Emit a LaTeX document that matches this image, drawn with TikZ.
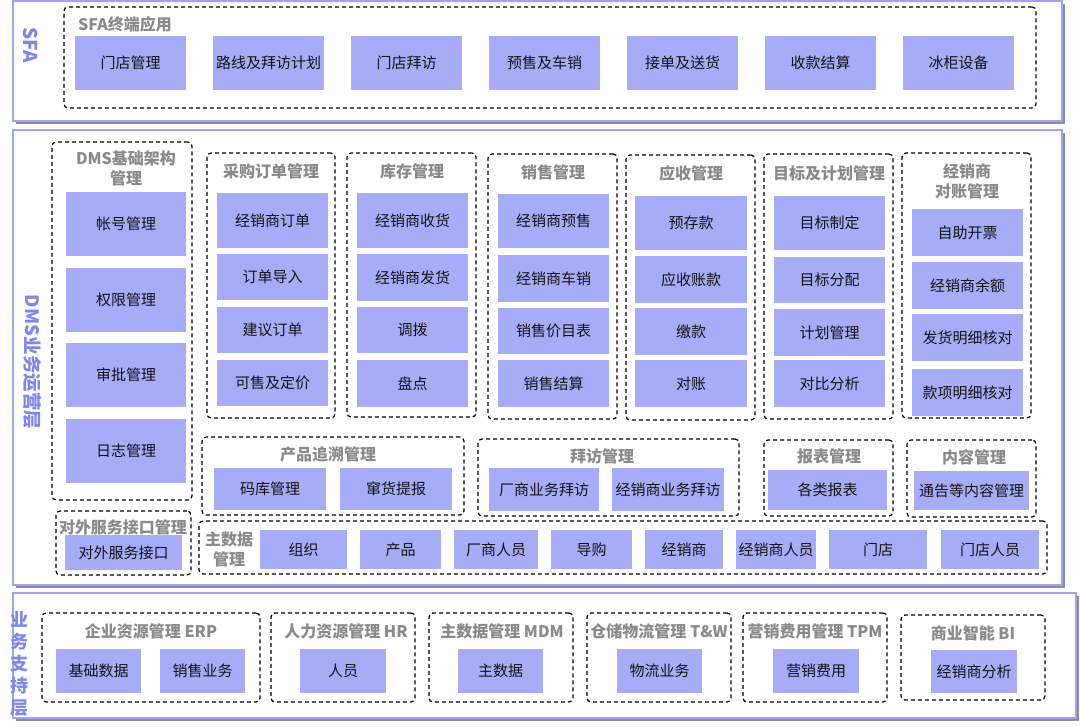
\documentclass[tikz,border=0pt]{standalone}
\usepackage{fontspec}
\setmainfont{Noto Sans CJK SC}
\definecolor{boxc}{RGB}{166,172,247}
\definecolor{panelc}{RGB}{158,165,240}
\definecolor{labelc}{RGB}{127,135,238}
\definecolor{ttlc}{RGB}{138,138,138}
\definecolor{shadowc}{RGB}{140,140,150}
\definecolor{txtc}{RGB}{20,20,20}
\newcommand\rbox[7][item]{\node[#1,anchor=north west,minimum width={(#5)-(#3)},minimum height={(#6)-(#4)}] (#2) at (#3,#4) {#7};}
\begin{document}
\begin{tikzpicture}[x=1pt,y=-1pt,
  item/.style={fill=boxc,inner sep=0pt,outer sep=0pt,text=txtc,font=\fontsize{15}{18}\selectfont,align=center},
  grp/.style={draw=black,line width=1.2pt,dash pattern=on 4pt off 3pt,rounded corners=4pt,inner sep=0pt,outer sep=0pt},
  panel/.style={fill=white,draw=panelc,line width=1.5pt,inner sep=0pt,outer sep=0pt},
  ttl/.style={text=ttlc,font=\fontsize{16}{20}\bfseries\selectfont,inner sep=0pt,align=center},
  side/.style={text=labelc,font=\fontsize{19}{23}\bfseries\selectfont,inner sep=0pt,align=center}]
\useasboundingbox (0,0) rectangle (1080,727);
% ---------- panels with shadow
\fill[shadowc] (16,4) rectangle (1065,124);
\fill[shadowc] (16,133) rectangle (1065,588);
\fill[shadowc] (16,596) rectangle (1079,721);
\rbox[panel]{pSFA}{13}{1}{1062}{121}{}
\rbox[panel]{pDMS}{13}{130}{1062}{585}{}
\rbox[panel]{pSUP}{13}{593}{1076}{718}{}
% ---------- side labels
\node[side,rotate=-90] (lSFA) at (31,45) {SFA};
\node[side,rotate=-90,font=\fontsize{18.5}{22}\bfseries\selectfont] (lDMS) at (32,362) {DMS业务运营层};
\node[side,font=\fontsize{18}{22}\bfseries\selectfont] (lSUP) at (19,664) {业\\务\\支\\持\\层};
% ---------- SFA
\rbox[grp]{gSFA}{64}{7}{1036}{108}{}
\node[ttl,anchor=west] (tSFA) at (78,24) {SFA终端应用};
\rbox{s1}{75}{36}{186}{90}{门店管理}
\rbox{s2}{213}{36}{324}{90}{路线及拜访计划}
\rbox{s3}{351}{36}{462}{90}{门店拜访}
\rbox{s4}{489}{36}{600}{90}{预售及车销}
\rbox{s5}{627}{36}{738}{90}{接单及送货}
\rbox{s6}{765}{36}{876}{90}{收款结算}
\rbox{s7}{903}{36}{1014}{90}{冰柜设备}
% ---------- DMS basic
\rbox[grp]{gBase}{52}{142}{192}{500}{}
\node[ttl] (tBase) at (126,168) {DMS基础架构\\管理};
\rbox{b1}{66}{192}{186}{256}{帐号管理}
\rbox{b2}{66}{268}{186}{332}{权限管理}
\rbox{b3}{66}{343}{186}{407}{审批管理}
\rbox{b4}{66}{419}{186}{483}{日志管理}
% purchase
\rbox[grp]{gPur}{207}{153}{335}{418}{}
\node[ttl] (tPur) at (271,171) {采购订单管理};
\rbox{p1}{217}{193}{328}{248}{经销商订单}
\rbox{p2}{217}{254}{328}{300}{订单导入}
\rbox{p3}{217}{307}{328}{353}{建议订单}
\rbox{p4}{217}{360}{328}{406}{可售及定价}
% inventory
\rbox[grp]{gInv}{347}{153}{476}{417}{}
\node[ttl] (tInv) at (412,171) {库存管理};
\rbox{i1}{357}{193}{468}{248}{经销商收货}
\rbox{i2}{357}{254}{468}{301}{经销商发货}
\rbox{i3}{357}{307}{468}{353}{调拨}
\rbox{i4}{357}{360}{468}{407}{盘点}
% sales
\rbox[grp]{gSal}{488}{154}{617}{419}{}
\node[ttl] (tSal) at (553,172) {销售管理};
\rbox{x1}{498}{194}{609}{248}{经销商预售}
\rbox{x2}{498}{255}{609}{302}{经销商车销}
\rbox{x3}{498}{308}{609}{354}{销售价目表}
\rbox{x4}{498}{360}{609}{407}{销售结算}
% receivables
\rbox[grp]{gRec}{626}{155}{755}{420}{}
\node[ttl] (tRec) at (691,173) {应收管理};
\rbox{r1}{635}{196}{747}{250}{预存款}
\rbox{r2}{635}{256}{747}{303}{应收账款}
\rbox{r3}{635}{308}{747}{355}{缴款}
\rbox{r4}{635}{360}{747}{407}{对账}
% targets
\rbox[grp]{gTar}{764}{154}{893}{419}{}
\node[ttl] (tTar) at (829,173) {目标及计划管理};
\rbox{t1}{774}{196}{885}{250}{目标制定}
\rbox{t2}{774}{257}{885}{303}{目标分配}
\rbox{t3}{774}{309}{885}{356}{计划管理}
\rbox{t4}{774}{360}{885}{407}{对比分析}
% dealer reconciliation
\rbox[grp]{gDea}{902}{153}{1031}{418}{}
\node[ttl] (tDea) at (967,181) {经销商\\对账管理};
\rbox{d1}{912}{209}{1023}{256}{自助开票}
\rbox{d2}{912}{262}{1023}{309}{经销商余额}
\rbox{d3}{912}{314}{1023}{361}{发货明细核对}
\rbox{d4}{912}{369}{1023}{416}{款项明细核对}
% ---------- second row
\rbox[grp]{gTra}{202}{437}{464}{515}{}
\node[ttl] (tTra) at (328,454) {产品追溯管理};
\rbox{tr1}{214}{468}{326}{510}{码库管理}
\rbox{tr2}{340}{468}{452}{510}{窜货提报}
\rbox[grp]{gVis}{478}{439}{739}{516}{}
\node[ttl] (tVis) at (602,456) {拜访管理};
\rbox{v1}{489}{468}{599}{511}{厂商业务拜访}
\rbox{v2}{612}{468}{724}{511}{经销商业务拜访}
\rbox[grp]{gRep}{764}{440}{893}{516}{}
\node[ttl] (tRep) at (829,456) {报表管理};
\rbox{rp1}{768}{470}{887}{510}{各类报表}
\rbox[grp]{gCon}{907}{440}{1036}{517}{}
\node[ttl] (tCon) at (974,457) {内容管理};
\rbox{c1}{914}{471}{1029}{510}{通告等内容管理}
% external interface
\rbox[grp]{gExt}{56}{511}{191}{575}{}
\node[ttl] (tExt) at (123,527) {对外服务接口管理};
\rbox{e1}{65}{535}{182}{570}{对外服务接口}
% master data
\rbox[grp]{gMD}{199}{521}{1047}{574}{}
\node[ttl] (tMD) at (229,549) {主数据\\管理};
\rbox{m1}{260}{530}{347}{569}{组织}
\rbox{m2}{360}{530}{441}{569}{产品}
\rbox{m3}{454}{530}{538}{569}{厂商人员}
\rbox{m4}{551}{530}{632}{569}{导购}
\rbox{m5}{645}{530}{723}{569}{经销商}
\rbox{m6}{736}{530}{816}{569}{经销商人员}
\rbox{m7}{829}{530}{927}{569}{门店}
\rbox{m8}{941}{530}{1039}{569}{门店人员}
% ---------- support layer
\rbox[grp]{gERP}{42}{613}{260}{702}{}
\node[ttl] (tERP) at (151,631) {企业资源管理 ERP};
\rbox{u1}{56}{649}{141}{693}{基础数据}
\rbox{u2}{160}{649}{245}{693}{销售业务}
\rbox[grp]{gHR}{271}{613}{415}{702}{}
\node[ttl] (tHR) at (346,631) {人力资源管理 HR};
\rbox{u3}{300}{649}{386}{693}{人员}
\rbox[grp]{gMDM}{429}{613}{573}{702}{}
\node[ttl] (tMDM) at (502,631) {主数据管理 MDM};
\rbox{u4}{458}{649}{543}{693}{主数据}
\rbox[grp]{gTW}{587}{613}{731}{702}{}
\node[ttl] (tTW) at (659,631) {仓储物流管理 T\&W};
\rbox{u5}{617}{649}{702}{693}{物流业务}
\rbox[grp]{gTPM}{743}{613}{887}{702}{}
\node[ttl] (tTPM) at (815,631) {营销费用管理 TPM};
\rbox{u6}{773}{649}{859}{693}{营销费用}
\rbox[grp]{gBI}{901}{615}{1045}{700}{}
\node[ttl] (tBI) at (973,633) {商业智能 BI};
\rbox{u7}{931}{650}{1017}{693}{经销商分析}
\end{tikzpicture}
\end{document}
